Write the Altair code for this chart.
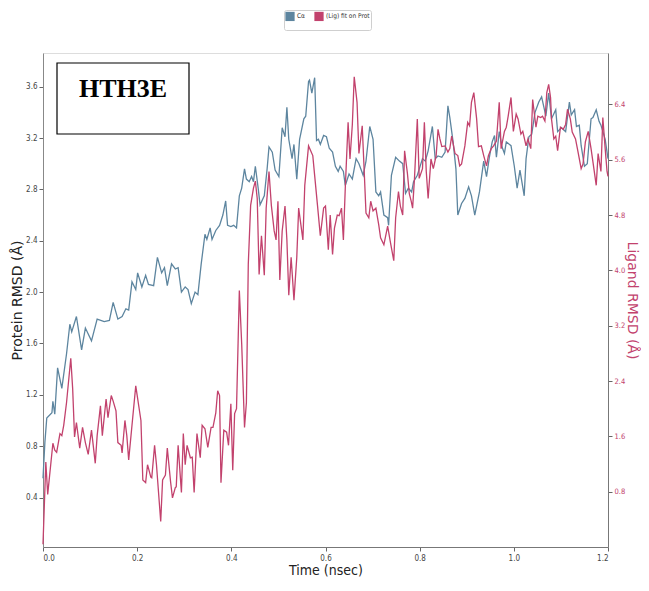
import altair as alt
import pandas as pd

# ---- data ----
series_names = ["Cα", "(Lig) fit on Prot"]
panel_label = ["HTH3E"]

time_prot = [0.000, 0.004, 0.008, 0.019, 0.021, 0.025, 0.031, 0.040, 0.050, 0.057, 0.061, 0.071, 0.082, 0.090,
             0.103, 0.115, 0.130, 0.141, 0.149, 0.159, 0.168, 0.176, 0.182, 0.189, 0.197, 0.201, 0.210, 0.218,
             0.224, 0.235, 0.243, 0.252, 0.258, 0.264, 0.273, 0.281, 0.287, 0.294, 0.302, 0.308, 0.315, 0.323,
             0.329, 0.336, 0.344, 0.348, 0.355, 0.359, 0.367, 0.375, 0.382, 0.388, 0.392, 0.399, 0.405, 0.411,
             0.417, 0.422, 0.428, 0.432, 0.438, 0.443, 0.447, 0.451, 0.457, 0.461, 0.470, 0.476, 0.480, 0.487,
             0.493, 0.501, 0.508, 0.514, 0.518, 0.522, 0.529, 0.533, 0.539, 0.545, 0.554, 0.558, 0.564, 0.566,
             0.571, 0.577, 0.581, 0.585, 0.589, 0.596, 0.602, 0.608, 0.615, 0.621, 0.627, 0.631, 0.638, 0.642,
             0.650, 0.657, 0.665, 0.671, 0.680, 0.686, 0.694, 0.701, 0.707, 0.713, 0.717, 0.724, 0.732, 0.734,
             0.740, 0.749, 0.757, 0.764, 0.770, 0.776, 0.783, 0.787, 0.795, 0.806, 0.812, 0.818, 0.827, 0.833,
             0.839, 0.847, 0.854, 0.860, 0.864, 0.871, 0.877, 0.881, 0.889, 0.896, 0.904, 0.910, 0.917, 0.927,
             0.936, 0.942, 0.948, 0.954, 0.959, 0.963, 0.969, 0.975, 0.980, 0.984, 0.994, 1.001, 1.007, 1.013,
             1.022, 1.026, 1.032, 1.038, 1.045, 1.053, 1.059, 1.068, 1.074, 1.080, 1.089, 1.093, 1.101, 1.110,
             1.118, 1.122, 1.129, 1.133, 1.139, 1.143, 1.150, 1.156, 1.164, 1.168, 1.175, 1.181, 1.185, 1.194,
             1.200]
rmsd_prot = [0.55, 0.83, 1.02, 1.06, 1.15, 1.05, 1.41, 1.25, 1.52, 1.75, 1.69, 1.81, 1.55, 1.72,
             1.62, 1.79, 1.77, 1.78, 1.92, 1.79, 1.81, 1.87, 1.86, 2.08, 2.02, 2.15, 2.04, 2.13,
             2.06, 2.05, 2.27, 2.15, 2.19, 2.05, 2.22, 2.18, 2.19, 2.00, 2.04, 2.02, 1.91, 2.00,
             1.98, 2.22, 2.45, 2.41, 2.50, 2.41, 2.48, 2.52, 2.60, 2.71, 2.52, 2.51, 2.52, 2.50,
             2.75, 2.81, 2.96, 2.88, 2.86, 2.90, 2.86, 2.98, 2.81, 2.68, 2.75, 2.96, 3.13, 3.09,
             2.95, 2.90, 3.28, 3.21, 3.44, 3.19, 3.04, 3.15, 2.88, 3.19, 3.35, 3.37, 3.64, 3.65,
             3.55, 3.67, 3.18, 3.19, 3.15, 3.22, 3.21, 3.12, 3.09, 2.98, 2.94, 2.98, 2.94, 2.83,
             2.92, 2.88, 3.04, 3.00, 2.91, 3.02, 3.29, 3.19, 2.78, 2.75, 2.78, 2.60, 2.58, 2.52,
             2.91, 3.05, 3.02, 3.00, 2.77, 2.81, 2.78, 2.86, 2.91, 3.04, 3.02, 3.10, 3.29, 3.04,
             3.06, 3.05, 3.09, 3.45, 3.36, 3.17, 2.96, 2.60, 2.69, 2.73, 2.82, 2.75, 2.60, 2.78,
             3.02, 2.90, 3.05, 3.17, 3.22, 3.05, 3.25, 3.13, 3.08, 3.17, 3.14, 2.98, 2.81, 2.95,
             2.75, 3.04, 3.21, 3.23, 3.40, 3.48, 3.52, 3.37, 3.55, 3.35, 3.42, 3.25, 3.28, 3.25,
             3.48, 3.38, 3.42, 3.29, 3.30, 3.14, 2.98, 3.00, 3.35, 3.36, 3.42, 3.33, 3.30, 3.19,
             3.04]

time_lig = [0.000, 0.006, 0.010, 0.021, 0.025, 0.029, 0.036, 0.040, 0.044, 0.050, 0.059, 0.063, 0.067, 0.071,
            0.078, 0.084, 0.090, 0.096, 0.103, 0.111, 0.115, 0.122, 0.126, 0.134, 0.138, 0.145, 0.149, 0.155,
            0.159, 0.166, 0.168, 0.174, 0.178, 0.182, 0.189, 0.197, 0.208, 0.212, 0.218, 0.222, 0.229, 0.231,
            0.237, 0.241, 0.250, 0.254, 0.260, 0.264, 0.271, 0.275, 0.281, 0.283, 0.287, 0.294, 0.298, 0.302,
            0.306, 0.313, 0.317, 0.321, 0.327, 0.334, 0.338, 0.344, 0.350, 0.357, 0.361, 0.367, 0.371, 0.375,
            0.378, 0.384, 0.390, 0.394, 0.399, 0.403, 0.407, 0.411, 0.417, 0.422, 0.428, 0.432, 0.436, 0.441,
            0.447, 0.451, 0.455, 0.459, 0.464, 0.470, 0.474, 0.480, 0.485, 0.491, 0.495, 0.499, 0.503, 0.508,
            0.514, 0.518, 0.522, 0.527, 0.533, 0.539, 0.543, 0.552, 0.556, 0.564, 0.573, 0.577, 0.583, 0.589,
            0.596, 0.600, 0.606, 0.610, 0.615, 0.619, 0.625, 0.629, 0.634, 0.638, 0.642, 0.648, 0.652, 0.657,
            0.661, 0.667, 0.671, 0.678, 0.682, 0.686, 0.692, 0.696, 0.701, 0.707, 0.713, 0.717, 0.724, 0.732,
            0.738, 0.745, 0.749, 0.755, 0.759, 0.764, 0.768, 0.774, 0.778, 0.782, 0.785, 0.789, 0.795, 0.799,
            0.806, 0.810, 0.814, 0.818, 0.824, 0.829, 0.835, 0.839, 0.843, 0.847, 0.854, 0.860, 0.864, 0.868,
            0.875, 0.881, 0.885, 0.889, 0.896, 0.902, 0.906, 0.910, 0.915, 0.921, 0.925, 0.931, 0.936, 0.942,
            0.946, 0.952, 0.957, 0.963, 0.969, 0.973, 0.980, 0.984, 0.988, 0.994, 0.999, 1.005, 1.009, 1.015,
            1.019, 1.026, 1.030, 1.036, 1.040, 1.047, 1.051, 1.057, 1.061, 1.066, 1.070, 1.074, 1.078, 1.080,
            1.085, 1.089, 1.093, 1.099, 1.105, 1.110, 1.114, 1.120, 1.124, 1.131, 1.135, 1.143, 1.147, 1.152,
            1.158, 1.164, 1.168, 1.175, 1.179, 1.185, 1.189, 1.194, 1.198, 1.200]
rmsd_lig = [0.04, 1.23, 0.76, 1.50, 1.40, 1.37, 1.64, 1.61, 1.76, 2.09, 2.73, 2.29, 1.59, 1.80,
            1.43, 1.73, 1.51, 1.34, 1.69, 1.21, 1.61, 2.04, 1.61, 2.14, 1.87, 2.19, 2.11, 1.97,
            1.51, 1.47, 1.36, 1.83, 1.61, 1.26, 1.76, 2.33, 1.83, 0.97, 0.93, 1.19, 1.01, 1.00,
            1.47, 1.19, 0.37, 0.97, 1.04, 1.43, 0.94, 0.71, 0.86, 0.87, 1.47, 0.79, 1.64, 1.19,
            1.47, 1.29, 1.30, 0.79, 1.64, 1.29, 1.76, 1.71, 1.44, 1.73, 1.73, 1.94, 2.26, 2.19,
            0.93, 1.69, 1.66, 1.47, 2.07, 1.11, 1.93, 2.00, 3.71, 2.94, 1.73, 2.09, 4.09, 4.94,
            5.19, 5.29, 5.04, 3.94, 4.50, 3.93, 4.90, 5.43, 4.94, 4.57, 4.44, 5.00, 3.86, 4.57,
            4.93, 4.44, 3.64, 4.19, 3.57, 4.19, 4.90, 4.44, 5.23, 5.80, 5.66, 5.37, 4.94, 4.50,
            4.90, 4.93, 4.30, 4.80, 4.23, 4.61, 4.80, 4.79, 4.90, 4.44, 5.19, 6.14, 5.61, 6.11,
            6.80, 6.43, 5.69, 6.09, 5.47, 4.83, 4.76, 5.00, 4.86, 4.90, 4.66, 4.47, 4.37, 4.64,
            4.40, 4.14, 4.76, 5.14, 4.93, 4.80, 5.73, 5.40, 5.11, 5.00, 4.90, 5.33, 6.19, 5.33,
            5.47, 6.14, 5.43, 5.04, 5.61, 5.47, 5.66, 6.04, 5.90, 5.79, 5.80, 5.71, 5.76, 5.94,
            5.69, 5.66, 5.51, 5.54, 5.80, 6.14, 6.09, 6.43, 6.57, 6.19, 5.79, 5.80, 5.66, 5.51,
            5.66, 5.76, 5.80, 5.87, 6.43, 5.76, 6.01, 6.07, 6.23, 6.50, 6.01, 6.26, 6.19, 5.97,
            6.01, 5.80, 5.90, 5.76, 6.47, 6.07, 6.23, 6.21, 6.23, 6.16, 6.57, 6.69, 6.50, 6.19,
            5.90, 5.94, 5.73, 6.07, 6.04, 6.11, 6.33, 6.19, 6.00, 5.90, 5.76, 5.47, 5.54, 5.86,
            6.01, 5.76, 5.57, 5.23, 5.69, 5.43, 6.21, 5.76, 5.43, 5.36]

x_ticks = [0.0, 0.2, 0.4, 0.6, 0.8, 1.0, 1.2]
prot_ticks = [0.4, 0.8, 1.2, 1.6, 2.0, 2.4, 2.8, 3.2, 3.6]
lig_ticks = [0.8, 1.6, 2.4, 3.2, 4.0, 4.8, 5.6, 6.4]

BLUE = "#5d859f"
RED = "#c2426d"
NARROW = "Liberation Sans Narrow, DejaVu Sans Condensed, Liberation Sans, sans-serif"
TITLE_FONT = "DejaVu Sans"

prot_df = pd.DataFrame({"time": time_prot, "rmsd": rmsd_prot, "series": series_names[0]})
lig_df = pd.DataFrame({"time": time_lig, "rmsd": rmsd_lig, "series": series_names[1]})
label_df = pd.DataFrame({"label": panel_label})

x_enc = alt.X("time:Q",
              scale=alt.Scale(domain=[0, 1.2], nice=False, zero=False),
              axis=alt.Axis(title="Time (nsec)", values=x_ticks, format=".1f",
                            labelFont=NARROW, labelFontSize=8, labelColor="#444",
                            tickSize=4, tickColor="#666", domainColor="#777",
                            titleFont=NARROW, titleFontSize=14, titleFontWeight="normal",
                            titleColor="#222", titlePadding=1, labelPadding=3, grid=False))

color_enc = alt.Color("series:N",
                      scale=alt.Scale(domain=series_names, range=[BLUE, RED]),
                      legend=alt.Legend(title=None, orient="none", legendX=241, legendY=-43,
                                        direction="horizontal", symbolType="square",
                                        symbolSize=18, symbolStrokeWidth=5, labelFontSize=6.5,
                                        labelFont=NARROW, labelColor="#333", columnPadding=1,
                                        rowPadding=0, padding=1, strokeColor="#cfcfcf",
                                        cornerRadius=2, symbolOffset=0, labelOffset=2))

prot_line = alt.Chart(prot_df).mark_line(strokeWidth=1.3).encode(
    x=x_enc,
    y=alt.Y("rmsd:Q",
            scale=alt.Scale(domain=[0.015, 3.862], nice=False, zero=False),
            axis=alt.Axis(orient="left", title="Protein RMSD (Å)", values=prot_ticks, format=".1f",
                          labelFont=NARROW, labelFontSize=8, labelColor="#444",
                          tickSize=4, tickColor="#666", domainColor="#888",
                          titleFont=TITLE_FONT, titleFontSize=14, titleFontWeight="normal",
                          titleColor="#222", titlePadding=1, labelPadding=2, grid=False)),
    color=color_enc,
)

lig_line = alt.Chart(lig_df).mark_line(strokeWidth=1.3).encode(
    x=x_enc,
    y=alt.Y("rmsd:Q",
            scale=alt.Scale(domain=[0, 7.143], nice=False, zero=False),
            axis=alt.Axis(orient="right", title="Ligand RMSD (Å)", values=lig_ticks, format=".1f",
                          labelFont=NARROW, labelFontSize=7.5, labelColor=RED,
                          tickSize=4, tickColor="#666", domainColor="#777",
                          titleFont=TITLE_FONT, titleFontSize=14, titleFontWeight="normal",
                          titleColor=RED, titlePadding=0, labelPadding=2, grid=False)),
    color=color_enc,
)

box = alt.Chart(label_df).mark_rect(fill="white", stroke="black", strokeWidth=1.2).encode(
    x=alt.value(14), x2=alt.value(146), y=alt.value(10), y2=alt.value(81)
)
box_text = alt.Chart(label_df).mark_text(
    font="Liberation Serif", fontWeight="bold", fontSize=26, color="black",
    align="center", baseline="middle"
).encode(text="label:N", x=alt.value(80), y=alt.value(36))

chart = alt.layer(prot_line, lig_line, box, box_text).resolve_scale(
    y="independent"
).properties(
    width=565, height=494,
    autosize=alt.AutoSizeParams(type="none"),
    padding={"left": 35, "top": 45, "right": 33, "bottom": 32},
).configure_view(stroke="#999", strokeWidth=1).configure(background="white")

chart.save("out.html", embed_options={"renderer": "svg", "actions": False})
